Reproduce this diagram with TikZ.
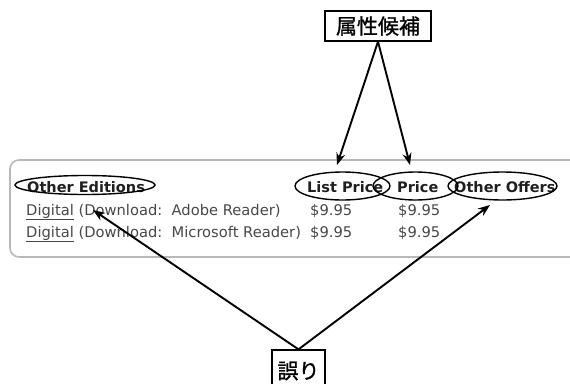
\documentclass[tikz,border=0pt]{standalone}
\usepackage{fontspec}
\setmainfont{DejaVu Sans}
\newfontfamily\jpfont[FakeBold=1.2]{Noto Sans CJK JP}
\usetikzlibrary{shapes.geometric,arrows.meta}

\begin{document}
\begin{tikzpicture}[x=1pt,y=-1pt,
  cell/.style={font=\fontsize{14.7}{16}\selectfont, text=black!72, inner sep=0pt, anchor=base west},
  hdr/.style={cell, font=\fontsize{14.5}{16}\selectfont\bfseries, text=black!88},
  ring/.style={draw=black, line width=1.4pt, ellipse, inner sep=0pt},
  tag/.style={draw=black, line width=1.3pt, fill=white, inner sep=0pt,
              font=\jpfont\fontsize{21}{22}\selectfont},
  pointer/.style={line width=1.9pt, -{Stealth[length=12pt,width=9pt]}}
]
\useasboundingbox (0,0) rectangle (570,383);
\clip (0,0) rectangle (570,383);

% offers table frame
\draw[draw=black!28, line width=1.6pt, rounded corners=9pt] (10,160) rectangle (610,257);

% header row
\node[hdr] (hOE) at (27,192) {Other Editions};
\node[hdr] (hLP) at (307,192) {List Price};
\node[hdr] (hPr) at (397,192) {Price};
\node[hdr] (hOO) at (454,192) {Other Offers};

% data rows
\node[cell] (r1) at (26,215) {\underline{Digital} (Download:\ \ Adobe Reader)};
\node[cell] (r1a) at (310,215) {\$9.95};
\node[cell] (r1b) at (398,215) {\$9.95};
\node[cell] (r2) at (26,237) {\underline{Digital} (Download:\ \ Microsoft Reader)};
\node[cell] (r2a) at (310,237) {\$9.95};
\node[cell] (r2b) at (398,237) {\$9.95};

% hand-drawn ellipses around the headers
\node[ring, minimum width=140, minimum height=19] (eOE) at (85,185) {};
\node[ring, minimum width=95, minimum height=28] (eLP) at (342.5,186) {};
\node[ring, minimum width=85, minimum height=28] (ePr) at (415.5,186) {};
\node[ring, minimum width=109, minimum height=28] (eOO) at (502.5,186) {};

% callout boxes
\node[tag, minimum width=106, minimum height=30] (cand) at (378,26) {属性候補};
\node[tag, minimum width=53, minimum height=42] (err) at (298.5,371) {\raisebox{-1pt}{誤り}};

% arrow targets
\coordinate (tLP) at (337,165);
\coordinate (tPr) at (410,165);
\coordinate (tOE) at (93,210);
\coordinate (tOO) at (490,205);

% arrows
\draw[pointer] (cand.south) -- (tLP);
\draw[pointer] (cand.south) -- (tPr);
\draw[pointer] (err.north) -- (tOE);
\draw[pointer] (err.north) -- (tOO);
\end{tikzpicture}
\end{document}
